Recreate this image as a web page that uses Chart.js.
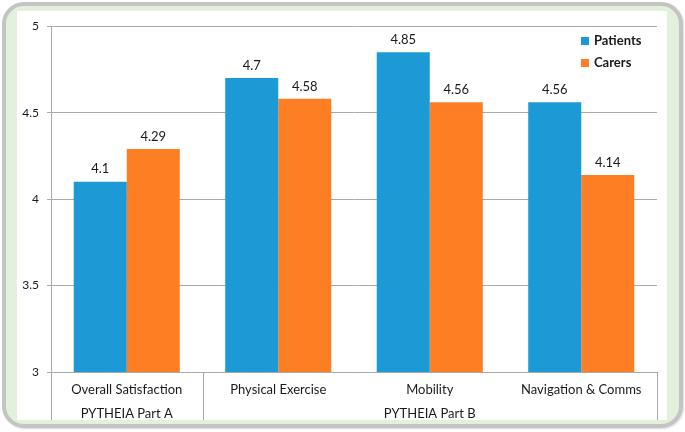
<!DOCTYPE html>
<html>
<head>
<meta charset="utf-8">
<script src="https://cdn.jsdelivr.net/npm/chart.js@4/dist/chart.umd.min.js"></script>
<style>
  body { margin: 0; background: #fff; }
  #frame {
    position: absolute; left: 2px; top: 2px; width: 673px; height: 418px;
    border: 4px solid #c4c4c4; border-radius: 22px; background: #e2f0dc;
    box-shadow: 1px 1px 2px rgba(0,0,0,0.15);
  }
  #chart { position: absolute; left: 17px; top: 11px; background: #fff; }
</style>
</head>
<body>
<div id="frame"></div>
<canvas id="chart" width="650" height="409"></canvas>
<script>
// Dane wykresu
const categories = ['Overall Satisfaction', 'Physical Exercise', 'Mobility', 'Navigation & Comms'];
const groups = ['PYTHEIA Part A', 'PYTHEIA Part B'];
const groupSpans = [1, 3];
const patients = [4.1, 4.7, 4.85, 4.56];
const carers = [4.29, 4.58, 4.56, 4.14];
const yTicks = [3, 3.5, 4, 4.5, 5];

const FONT = 'Lato, "Open Sans", sans-serif';
const GRID = '#a9a9a9';

// Etykiety wartości nad słupkami
const valueLabels = {
    id: 'valueLabels',
    afterDatasetsDraw(chart) {
        const ctx = chart.ctx;
        ctx.save();
        ctx.font = '13px ' + FONT;
        ctx.fillStyle = '#1a1a1a';
        ctx.textAlign = 'center';
        ctx.textBaseline = 'bottom';
        chart.data.datasets.forEach((ds, i) => {
            chart.getDatasetMeta(i).data.forEach((bar, j) => {
                ctx.fillText(String(ds.data[j]), bar.x, bar.y - 6);
            });
        });
        ctx.restore();
    }
};

// Grupy kategorii i linie oddzielające pod osią X
const groupAxis = {
    id: 'groupAxis',
    afterDraw(chart) {
        const ctx = chart.ctx;
        const x = chart.scales.x;
        const half = (x.getPixelForValue(1) - x.getPixelForValue(0)) / 2;
        const top = chart.chartArea.bottom;
        const bottom = chart.height;
        ctx.save();
        ctx.strokeStyle = GRID;
        ctx.lineWidth = 1;
        ctx.font = '13px ' + FONT;
        ctx.fillStyle = '#1a1a1a';
        ctx.textAlign = 'center';
        ctx.textBaseline = 'middle';
        let start = 0;
        const edges = [x.getPixelForValue(0) - half];
        groups.forEach((g, i) => {
            const end = start + groupSpans[i] - 1;
            const left = x.getPixelForValue(start) - half;
            const right = x.getPixelForValue(end) + half;
            edges.push(right);
            ctx.fillText(g, (left + right) / 2, top + 42);
            start = end + 1;
        });
        edges.forEach(e => {
            const px = Math.round(e) + 0.5;
            ctx.beginPath();
            ctx.moveTo(px, top);
            ctx.lineTo(px, bottom);
            ctx.stroke();
        });
        ctx.restore();
    }
};

// Legenda w prawym górnym rogu
const cornerLegend = {
    id: 'cornerLegend',
    afterDraw(chart) {
        const ctx = chart.ctx;
        ctx.save();
        ctx.font = 'bold 13px ' + FONT;
        ctx.textBaseline = 'middle';
        ctx.textAlign = 'left';
        chart.data.datasets.forEach((ds, i) => {
            const y = 30 + i * 22;
            ctx.fillStyle = ds.backgroundColor;
            ctx.fillRect(564, y - 4, 8, 8);
            ctx.fillStyle = '#1a1a1a';
            ctx.fillText(ds.label, 577, y);
        });
        ctx.restore();
    }
};

new Chart(document.getElementById('chart').getContext('2d'), {
    type: 'bar',
    data: {
        labels: categories,
        datasets: [
            { label: 'Patients', data: patients, backgroundColor: '#1c9ad6' },
            { label: 'Carers', data: carers, backgroundColor: '#fd7e23' }
        ]
    },
    options: {
        responsive: false,
        animation: false,
        layout: { padding: { top: 13, right: 10, left: 0, bottom: 0 } },
        datasets: { bar: { categoryPercentage: 0.7, barPercentage: 1 } },
        plugins: { legend: { display: false }, tooltip: { enabled: false } },
        scales: {
            x: {
                grid: { display: false, drawTicks: false },
                border: { display: true, color: GRID },
                ticks: { font: { family: FONT, size: 13 }, color: '#1a1a1a', padding: 10, maxRotation: 0 },
                afterFit(scale) { scale.height = 48; }
            },
            y: {
                min: 3,
                max: 5,
                afterBuildTicks(scale) { scale.ticks = yTicks.map(v => ({ value: v })); },
                grid: { color: GRID, tickLength: 4 },
                border: { display: true, color: GRID },
                ticks: {
                    font: { family: FONT, size: 12 }, color: '#1a1a1a', padding: 8,
                    callback: v => String(v)
                },
                afterFit(scale) { scale.width = 34; }
            }
        }
    },
    plugins: [valueLabels, groupAxis, cornerLegend]
});
</script>
</body>
</html>
